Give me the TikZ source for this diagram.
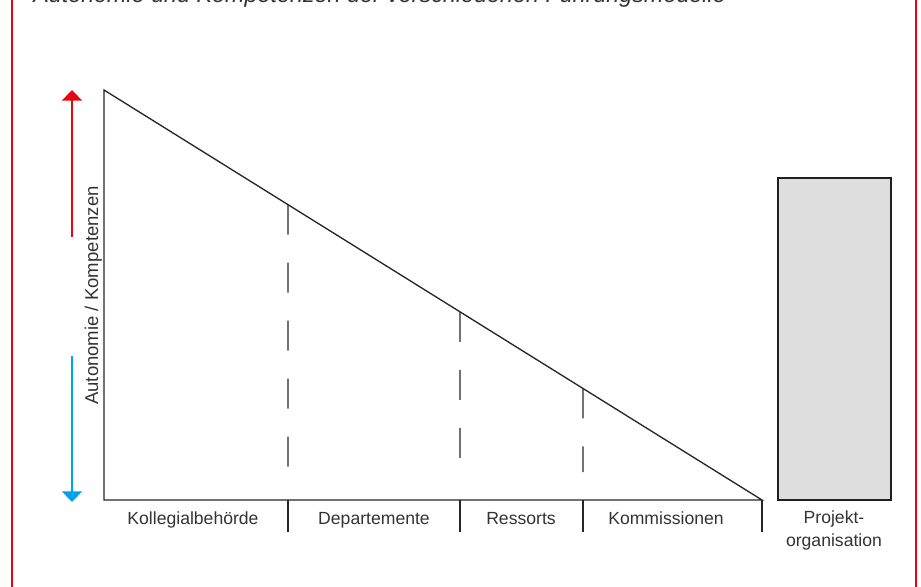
\documentclass[tikz,border=0pt]{standalone}
\usepackage{fontspec}
\setmainfont{Liberation Sans}
\usetikzlibrary{calc,arrows.meta}
\definecolor{framered}{HTML}{E30613}
\definecolor{arrowblue}{HTML}{00A3E8}
\definecolor{boxgray}{HTML}{DEDEDE}
\definecolor{textgray}{HTML}{333333}
\tikzset{
  lbl/.style={text=textgray, font=\fontsize{13.2}{16.9}\selectfont, inner sep=0pt},
  rule/.style={line width=1pt, black!85},
  dashrule/.style={rule, dash pattern=on 22.5pt off 21pt},
  axisarrow/.style={line width=1.6pt, -{Triangle[width=15pt, length=8pt]}},
}

\begin{document}
\begin{tikzpicture}[x=0.75pt, y=-0.75pt]
    \useasboundingbox (0,0) rectangle (921,586);
    \clip (0,0) rectangle (921,586);
    \draw[framered, line width=1pt] (12,-10) -- (12,600) (916,-10) -- (916,600);
    \node[lbl, font=\itshape\fontsize{17.5}{20}\selectfont, anchor=base west] (title) at (33,2.8) {Autonomie und Kompetenzen der verschiedenen Führungsmodelle};
    \coordinate (top) at (104,90);
    \coordinate (origin) at (104,500);
    \coordinate (tip) at (762,500);
    \draw[rule] (top) -- (origin) -- (tip) -- cycle;
    \foreach \x/\n in {288/a, 460/b, 583/c} {
        \coordinate (h\n) at ($(top)!{(\x-104)/658}!(tip)$);
        \coordinate (e\n) at (\x,472);
        \draw[dashrule] (h\n) -- (e\n);
    }
    \foreach \x in {288, 460, 583, 762} {
        \coordinate (s\x) at (\x,500);
        \coordinate (t\x) at (\x,532);
        \draw[rule] (s\x) -- (t\x);
    }
    \node[lbl, anchor=base] (kollegial) at (193,524.5) {Kollegialbehörde};
    \node[lbl, anchor=base] (departemente) at (374,524.5) {Departemente};
    \node[lbl, anchor=base] (ressorts) at (521,524.5) {Ressorts};
    \node[lbl, anchor=base] (kommissionen) at (666,524.5) {Kommissionen};
    \draw[line width=2pt, black!88, fill=boxgray] (778,178) rectangle (891,500);
    \node[lbl, anchor=base, align=center] (projekt) at (834,546.5) {Projekt-\\organisation};
    \coordinate (redfrom) at (72,237);
    \coordinate (redto) at (72,90);
    \coordinate (bluefrom) at (72,356);
    \coordinate (blueto) at (72,502);
    \draw[axisarrow, framered] (redfrom) -- (redto);
    \draw[axisarrow, arrowblue] (bluefrom) -- (blueto);
    \node[lbl, font=\fontsize{13.9}{16.9}\selectfont, rotate=90, anchor=base west] (axislabel) at (98,405) {Autonomie / Kompetenzen};
\end{tikzpicture}
\end{document}
